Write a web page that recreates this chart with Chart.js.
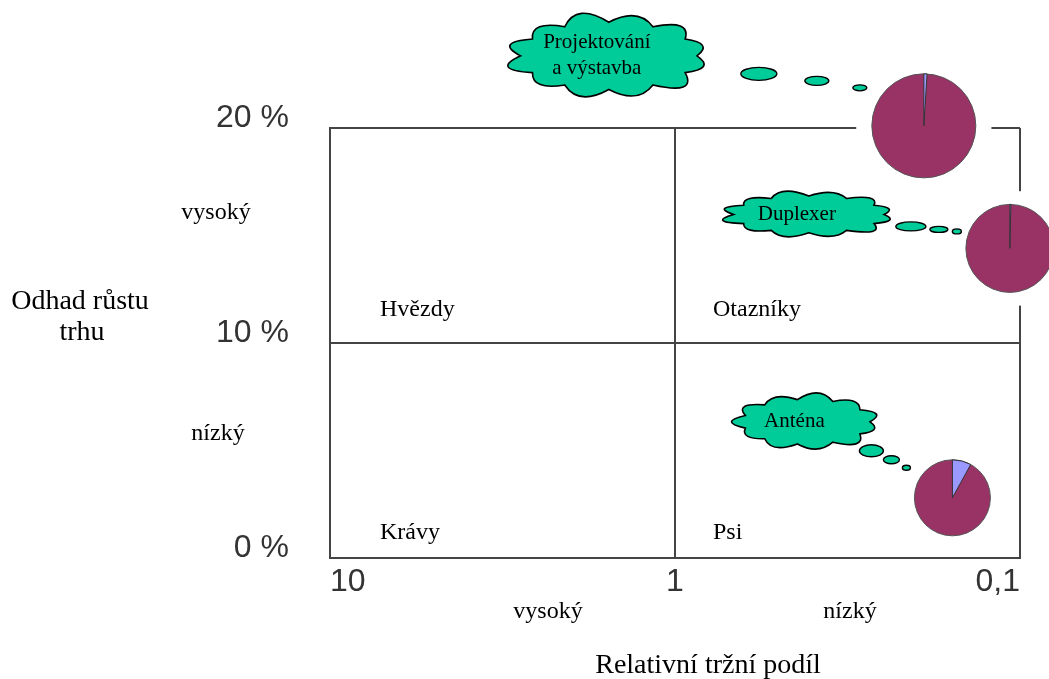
<!DOCTYPE html>
<html>
<head>
<meta charset="utf-8">
<script src="https://cdn.jsdelivr.net/npm/chart.js@4/dist/chart.umd.min.js"></script>
<style>
  body { margin: 0; background: #fff; }
  #wrap { width: 1049px; height: 679px; }
</style>
</head>
<body>
<div id="wrap"><canvas id="bcg" width="1049" height="679"></canvas></div>
<script>
// data
const products = ['Projektování\na výstavba', 'Duplexer', 'Anténa'];
const relShare = [0.19, 0.107, 0.157];     // relative market share (log axis, 10 .. 0,1)
const growth = [20.1, 14.4, 2.8];          // market growth in %
const bubbleSize = [52, 44, 38];           // bubble radius
const bluePart = [1, 0.4, 8];              // % of pie in the light slice
const xTicks = [0.1, 1, 10];
const yTicks = [0, 10, 20];
const quadrants = ['Hvězdy', 'Otazníky', 'Krávy', 'Psi'];
const yLevels = ['vysoký', 'nízký'];
const xLevels = ['vysoký', 'nízký'];

const serif = "'Liberation Serif', 'DejaVu Serif', serif";
const teal = '#00cc99';
const lobes = [1.16, 1.08, 1.22, 1.1, 1.14, 1.06, 1.2];

// bumpy cloud outline
function cloud(ctx, cx, cy, w, h, n) {
  const rx = w / 2, ry = h / 2;
  ctx.beginPath();
  for (let i = 0; i <= n; i++) {
    const a = i / n * 2 * Math.PI;
    const px = cx + rx * 0.86 * Math.cos(a), py = cy + ry * 0.8 * Math.sin(a);
    if (i === 0) ctx.moveTo(px, py);
    else {
      const am = (i - 0.5) / n * 2 * Math.PI;
      const k = lobes[i % lobes.length];
      ctx.quadraticCurveTo(cx + rx * k * Math.cos(am), cy + ry * (k + 0.1) * Math.sin(am), px, py);
    }
  }
  ctx.closePath();
  ctx.fillStyle = teal;
  ctx.fill();
  ctx.lineWidth = 1.6;
  ctx.strokeStyle = '#000';
  ctx.stroke();
}

function blob(ctx, x, y, w, h) {
  ctx.beginPath();
  ctx.ellipse(x, y, w / 2, h / 2, 0, 0, 2 * Math.PI);
  ctx.fillStyle = teal;
  ctx.fill();
  ctx.lineWidth = 1.4;
  ctx.strokeStyle = '#000';
  ctx.stroke();
}

// cloud layout relative to each bubble: [dx, dy, w, h, bumps], then the trail
const cloudShape = [
  { c: [-315, -70, 205, 84, 12], trail: [[-165, -52, 36, 13], [-107, -45, 24, 9], [-64, -38, 14, 6]] },
  { c: [-201, -34, 175, 46, 12], trail: [[-99, -22, 30, 9], [-71, -19, 18, 6], [-53, -17, 9, 5]] },
  { c: [-146, -76, 148, 56, 11], trail: [[-81, -47, 24, 12], [-61, -38, 16, 8], [-46, -30, 8, 5]] }
];

const bcgPlugin = {
  id: 'bcg',
  beforeDatasetsDraw(chart) {
    const ctx = chart.ctx;
    const meta = chart.getDatasetMeta(0);
    ctx.save();
    ctx.fillStyle = '#fff';
    meta.data.forEach((pt, i) => {
      const s = bubbleSize[i] * 1.3;
      ctx.fillRect(pt.x - s, pt.y - s, 2 * s, 2 * s);
    });
    ctx.restore();
  },
  afterDatasetsDraw(chart) {
    const ctx = chart.ctx;
    const meta = chart.getDatasetMeta(0);
    const xs = chart.scales.x, ys = chart.scales.y;
    const a = chart.chartArea;
    ctx.save();
    // pie slices
    meta.data.forEach((pt, i) => {
      const r = bubbleSize[i];
      const a0 = -Math.PI / 2, a1 = a0 + 2 * Math.PI * bluePart[i] / 100;
      ctx.beginPath();
      ctx.moveTo(pt.x, pt.y);
      ctx.arc(pt.x, pt.y, r, a0, a1);
      ctx.closePath();
      ctx.fillStyle = '#9999ff';
      ctx.fill();
      ctx.lineWidth = 1;
      ctx.strokeStyle = '#333';
      ctx.stroke();
    });
    // clouds
    meta.data.forEach((pt, i) => {
      const sh = cloudShape[i];
      sh.trail.forEach(t => blob(ctx, pt.x + t[0], pt.y + t[1], t[2], t[3]));
      const cx = pt.x + sh.c[0], cy = pt.y + sh.c[1];
      cloud(ctx, cx, cy, sh.c[2], sh.c[3], sh.c[4]);
      const lines = products[i].split('\n');
      ctx.fillStyle = '#000';
      ctx.font = '21px ' + serif;
      ctx.textAlign = 'center';
      ctx.textBaseline = 'middle';
      lines.forEach((ln, j) => {
        ctx.fillText(ln, cx - 12, cy + (j - (lines.length - 1) / 2) * 26);
      });
    });
    // quadrant names
    const midX = xs.getPixelForValue(1), midY = ys.getPixelForValue(10);
    ctx.fillStyle = '#000';
    ctx.font = '24px ' + serif;
    ctx.textAlign = 'left';
    ctx.textBaseline = 'middle';
    ctx.fillText(quadrants[0], a.left + 50, midY - 33);
    ctx.fillText(quadrants[1], midX + 38, midY - 33);
    ctx.fillText(quadrants[2], a.left + 50, a.bottom - 25);
    ctx.fillText(quadrants[3], midX + 38, a.bottom - 25);
    // level labels
    ctx.textAlign = 'center';
    ctx.fillText(yLevels[0], 216, ys.getPixelForValue(16.05));
    ctx.fillText(yLevels[1], 218, ys.getPixelForValue(5.8));
    ctx.fillText(xLevels[0], 548, a.bottom + 54);
    ctx.fillText(xLevels[1], 850, a.bottom + 54);
    // axis titles
    ctx.font = '28px ' + serif;
    ctx.fillText('Odhad růstu', 80, 302);
    ctx.fillText('trhu', 82, 333);
    ctx.fillText('Relativní tržní podíl', 708, a.bottom + 108);
    ctx.restore();
  }
};

const ctx = document.getElementById('bcg').getContext('2d');
const gridStyle = { color: '#444', lineWidth: 2, drawTicks: false };
const tickFont = { family: "'Liberation Sans', Arial, sans-serif", size: 32 };

new Chart(ctx, {
  type: 'bubble',
  data: {
    datasets: [{
      label: 'Výrobky',
      data: products.map((p, i) => ({ x: relShare[i], y: growth[i], r: bubbleSize[i] })),
      backgroundColor: '#993366',
      borderColor: '#555',
      borderWidth: 1,
      hoverRadius: 0,
      clip: false
    }]
  },
  options: {
    responsive: false,
    animation: false,
    events: [],
    layout: { autoPadding: false, padding: { top: 128, right: 29, bottom: 0, left: 0 } },
    plugins: { legend: { display: false }, tooltip: { enabled: false } },
    scales: {
      x: {
        type: 'logarithmic',
        reverse: true,
        min: 0.1,
        max: 10,
        afterBuildTicks: axis => { axis.ticks = xTicks.map(v => ({ value: v })); },
        afterFit: axis => { axis.height = 121; },
        grid: gridStyle,
        border: { color: '#444', width: 2 },
        ticks: {
          font: tickFont,
          color: '#333',
          align: 'inner',
          padding: 5,
          maxRotation: 0,
          autoSkip: false,
          callback: v => String(v).replace('.', ',')
        }
      },
      y: {
        min: 0,
        max: 20,
        afterBuildTicks: axis => { axis.ticks = yTicks.map(v => ({ value: v })); },
        afterFit: axis => { axis.width = 330; },
        grid: gridStyle,
        border: { color: '#444', width: 2 },
        ticks: {
          font: tickFont,
          color: '#333',
          padding: 41,
          labelOffset: -10,
          callback: v => v + ' %'
        }
      }
    }
  },
  plugins: [bcgPlugin]
});
</script>
</body>
</html>
